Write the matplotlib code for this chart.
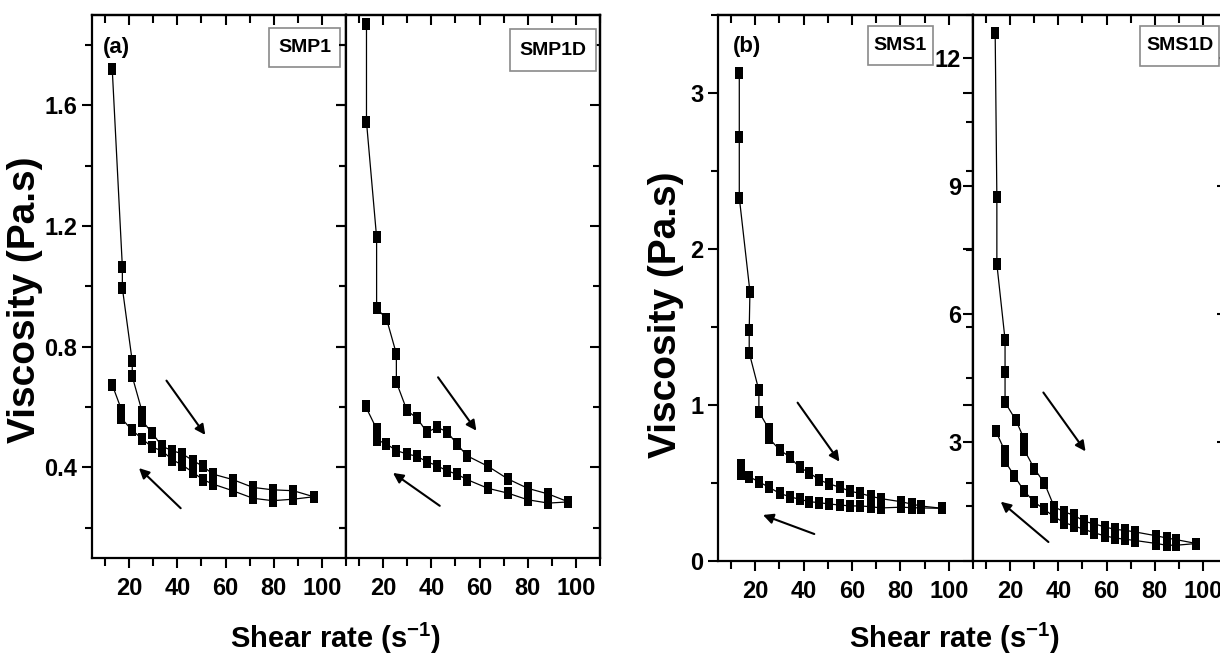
import matplotlib
matplotlib.use('Agg')
import matplotlib.pyplot as plt
from matplotlib import font_manager
from matplotlib.ticker import FixedLocator
from matplotlib.patches import Rectangle
from matplotlib.path import Path

# ---------------- data ----------------
# (a) SMP1
smp1_up_x = [13.0, 17.2, 17.2, 21.3, 21.3, 25.4, 25.4, 29.5, 33.7, 37.9, 42.1, 46.5, 50.6, 54.8, 63.0, 71.4, 79.6, 88.2, 96.6]
smp1_up_y = [1.72, 1.065, 0.995, 0.752, 0.702, 0.585, 0.555, 0.515, 0.470, 0.456, 0.445, 0.423, 0.404, 0.378, 0.360, 0.334, 0.326, 0.323, 0.303]
smp1_dn_x = [96.6, 88.2, 79.6, 71.4, 63.0, 54.8, 50.6, 46.5, 42.1, 37.9, 33.7, 29.5, 25.4, 21.2, 16.8, 16.8, 13.0]
smp1_dn_y = [0.303, 0.295, 0.290, 0.298, 0.323, 0.345, 0.360, 0.384, 0.408, 0.426, 0.455, 0.468, 0.495, 0.524, 0.563, 0.592, 0.674]

# (a) SMP1D
smp1d_up_x = [13.1, 13.1, 17.3, 17.3, 21.4, 25.5, 25.5, 29.9, 34.1, 38.2, 42.4, 46.5, 50.6, 54.8, 63.5, 71.8, 80.0, 88.6, 96.9]
smp1d_up_y = [1.870, 1.546, 1.163, 0.928, 0.893, 0.777, 0.683, 0.589, 0.563, 0.517, 0.533, 0.519, 0.478, 0.439, 0.404, 0.362, 0.331, 0.312, 0.286]
smp1d_dn_x = [96.9, 88.6, 80.0, 71.8, 63.5, 54.8, 50.6, 46.5, 42.4, 38.2, 34.1, 29.9, 25.5, 21.4, 17.3, 17.3, 12.7]
smp1d_dn_y = [0.286, 0.282, 0.293, 0.315, 0.331, 0.360, 0.378, 0.389, 0.406, 0.419, 0.437, 0.445, 0.456, 0.478, 0.492, 0.528, 0.603]

# (b) SMS1
sms1_up_x = [13.4, 13.4, 13.4, 17.8, 17.5, 17.5, 21.5, 21.5, 25.7, 25.7, 30.1, 34.2, 38.3, 42.4, 46.5, 50.6, 55.1, 59.2, 63.3, 67.8, 71.9, 80.3, 84.6, 88.7, 97.2]
sms1_up_y = [3.13, 2.72, 2.33, 1.726, 1.48, 1.335, 1.094, 0.957, 0.844, 0.786, 0.712, 0.668, 0.600, 0.566, 0.519, 0.494, 0.472, 0.447, 0.434, 0.415, 0.400, 0.380, 0.365, 0.352, 0.338]
sms1_dn_x = [97.2, 88.7, 84.6, 80.3, 71.9, 67.8, 63.3, 59.2, 55.1, 50.6, 46.5, 42.4, 38.3, 34.2, 30.1, 25.7, 21.5, 17.5, 14.2, 14.2]
sms1_dn_y = [0.338, 0.340, 0.342, 0.345, 0.340, 0.348, 0.353, 0.353, 0.359, 0.365, 0.374, 0.380, 0.396, 0.412, 0.434, 0.472, 0.508, 0.540, 0.560, 0.615]

# (b) SMS1D
sms1d_up_x = [13.8, 14.5, 14.5, 17.9, 17.9, 17.9, 22.4, 25.9, 25.9, 30.1, 34.2, 38.3, 42.5, 46.6, 50.8, 54.9, 59.3, 63.5, 67.6, 72.0, 80.7, 84.9, 89.0, 97.3]
sms1d_up_y = [12.58, 8.73, 7.16, 5.39, 4.63, 3.92, 3.50, 3.05, 2.80, 2.36, 2.03, 1.47, 1.35, 1.27, 1.13, 1.07, 1.00, 0.94, 0.92, 0.88, 0.79, 0.74, 0.70, 0.61]
sms1d_dn_x = [97.3, 89.0, 84.9, 80.7, 72.0, 67.6, 63.5, 59.3, 54.9, 50.8, 46.6, 42.5, 38.3, 34.2, 30.1, 25.9, 21.8, 17.9, 17.9, 14.1]
sms1d_dn_y = [0.61, 0.57, 0.57, 0.61, 0.68, 0.71, 0.74, 0.79, 0.86, 0.94, 1.02, 1.10, 1.235, 1.41, 1.58, 1.835, 2.19, 2.54, 2.77, 3.24]

x_major = [20, 40, 60, 80, 100]
x_minor = [10, 30, 50, 70, 90, 110]
ya_major = [0.4, 0.8, 1.2, 1.6]
ya_minor = [0.2, 0.6, 1.0, 1.4, 1.8]
yb1_major = [0, 1, 2, 3]
yb1_minor = [0.5, 1.5, 2.5, 3.5]
yb2_major = [3, 6, 9, 12]
yb2_minor = [1.5, 4.5, 7.5, 10.5]

legend_names = ['SMP1', 'SMP1D', 'SMS1', 'SMS1D']
panel_tags = ['(a)', '(b)']
xlabel_text = 'Shear rate (s$^{-1}$)'
ylabel_text = 'Viscosity (Pa.s)'

# arrow annotations (start, end) in data coords
arrows = [
    [((35.5, 0.688), (51.6, 0.508)), ((41.4, 0.265), (24.1, 0.398))],
    [((42.8, 0.699), (58.7, 0.522)), ((43.5, 0.273), (24.1, 0.382))],
    [((37.5, 1.015), (54.8, 0.637)), ((44.4, 0.173), (23.2, 0.295))],
    [((33.8, 4.15), (51.3, 2.77)), ((35.9, 0.645), (16.1, 1.59))],
]

# ---------------- fonts ----------------
names = {f.name for f in font_manager.fontManager.ttflist}
WIDE = 'Liberation Sans' if 'Liberation Sans' in names else 'DejaVu Sans'
if 'Liberation Sans Narrow' in names:
    NARROW = 'Liberation Sans Narrow'
    TICK_FS, XLAB_FS = 18, 26
else:
    NARROW = WIDE
    TICK_FS, XLAB_FS = 17, 21

plt.rcParams.update({
    'font.family': [NARROW, 'DejaVu Sans'],
    'font.weight': 'bold',
    'mathtext.fontset': 'custom',
    'mathtext.rm': NARROW + ':bold',
    'mathtext.it': NARROW + ':bold',
    'mathtext.bf': NARROW + ':bold',
    'mathtext.default': 'regular',
    'axes.linewidth': 1.6,
})

W, H = 1220, 657
fig = plt.figure(figsize=(W / 100, H / 100), dpi=100)
fig.patch.set_facecolor('white')


def px_axes(x0, x1, y0, y1):
    return fig.add_axes([x0 / W, 1 - y1 / H, (x1 - x0) / W, (y1 - y0) / H])


marker_path = Path([(-0.75, -1), (0.75, -1), (0.75, 1), (-0.75, 1), (-0.75, -1)],
                   [Path.MOVETO, Path.LINETO, Path.LINETO, Path.LINETO, Path.CLOSEPOLY])

panels = [
    dict(rect=(92, 346, 15, 558), up=(smp1_up_x, smp1_up_y), dn=(smp1_dn_x, smp1_dn_y),
         ylim=(0.1, 1.9), ymaj=ya_major, ymin=ya_minor, ylab=True, ypad=3.5,
         box=(0.697, 0.904, 0.279, 0.072)),
    dict(rect=(346, 600, 15, 558), up=(smp1d_up_x, smp1d_up_y), dn=(smp1d_dn_x, smp1d_dn_y),
         ylim=(0.1, 1.9), ymaj=ya_major, ymin=ya_minor, ylab=False, ypad=3.5,
         box=(0.646, 0.897, 0.338, 0.077)),
    dict(rect=(718, 973, 15, 561), up=(sms1_up_x, sms1_up_y), dn=(sms1_dn_x, sms1_dn_y),
         ylim=(0.0, 3.5), ymaj=yb1_major, ymin=yb1_minor, ylab=True, ypad=3.5,
         box=(0.588, 0.908, 0.255, 0.072)),
    dict(rect=(973, 1227, 15, 561), up=(sms1d_up_x, sms1d_up_y), dn=(sms1d_dn_x, sms1d_dn_y),
         ylim=(0.2, 13.0), ymaj=yb2_major, ymin=yb2_minor, ylab=True, ypad=1.5,
         box=(0.657, 0.907, 0.312, 0.073)),
]

axes = []
for i, p in enumerate(panels):
    ax = px_axes(*p['rect'])
    axes.append(ax)
    for xs, ys in (p['up'], p['dn']):
        ax.plot(xs, ys, '-', color='black', lw=0.9, marker=marker_path, ms=8,
                mfc='black', mec='black', mew=0)
    ax.set_xlim(4.6, 110)
    ax.set_ylim(*p['ylim'])
    ax.xaxis.set_major_locator(FixedLocator(x_major))
    ax.xaxis.set_minor_locator(FixedLocator(x_minor))
    ax.yaxis.set_major_locator(FixedLocator(p['ymaj']))
    ax.yaxis.set_minor_locator(FixedLocator(p['ymin']))
    ax.tick_params(axis='x', which='both', direction='out', bottom=True, top=False,
                   width=1.5, labelsize=TICK_FS, pad=7)
    ax.tick_params(axis='x', which='major', length=7)
    ax.tick_params(axis='x', which='minor', length=6)
    ax.tick_params(axis='y', which='both', direction='out', left=True, right=False,
                   width=1.5, labelsize=TICK_FS, pad=p['ypad'], labelleft=p['ylab'])
    ax.tick_params(axis='y', which='major', length=7)
    ax.tick_params(axis='y', which='minor', length=5)
    ax.set_xticklabels([str(v) for v in x_major])
    if p['ylab']:
        ax.set_yticklabels([('%g' % v) for v in p['ymaj']])
    for s in ax.spines.values():
        s.set_linewidth(1.6)

    # top ticks pointing inward
    sx = ax.secondary_xaxis('top')
    sx.xaxis.set_major_locator(FixedLocator(x_major))
    sx.xaxis.set_minor_locator(FixedLocator(x_minor))
    sx.tick_params(axis='x', which='both', direction='in', labeltop=False, width=1.5)
    sx.tick_params(axis='x', which='major', length=7)
    sx.tick_params(axis='x', which='minor', length=6)
    sx.spines['top'].set_linewidth(1.6)
    # right ticks pointing inward
    sy = ax.secondary_yaxis('right')
    sy.yaxis.set_major_locator(FixedLocator(p['ymaj']))
    sy.yaxis.set_minor_locator(FixedLocator(p['ymin']))
    sy.tick_params(axis='y', which='both', direction='in', labelright=False, width=1.5)
    sy.tick_params(axis='y', which='major', length=7)
    sy.tick_params(axis='y', which='minor', length=5)
    sy.spines['right'].set_linewidth(1.6)

    # legend-like box
    bx, by, bw, bh = p['box']
    ax.add_patch(Rectangle((bx, by), bw, bh, transform=ax.transAxes, facecolor='white',
                           edgecolor='#8a8a8a', lw=1.2, zorder=5, clip_on=False))
    ax.text(bx + bw / 2, by + bh / 2, legend_names[i], transform=ax.transAxes,
            ha='center', va='center', fontsize=14, fontfamily=WIDE, fontweight='bold',
            zorder=6)

    for (start, end) in arrows[i]:
        ax.annotate('', xy=end, xytext=start,
                    arrowprops=dict(arrowstyle='-|>', color='black', lw=1.5,
                                    mutation_scale=15, shrinkA=0, shrinkB=0))

# panel tags
axes[0].text(0.098, 0.941, panel_tags[0], transform=axes[0].transAxes, ha='center',
             va='center', fontsize=16, fontfamily=WIDE, fontweight='bold')
axes[2].text(0.114, 0.943, panel_tags[1], transform=axes[2].transAxes, ha='center',
             va='center', fontsize=16, fontfamily=WIDE, fontweight='bold')

# axis labels
fig.text(25 / W, 1 - 300 / H, ylabel_text, rotation=90, ha='center', va='center',
         fontsize=28, fontfamily=WIDE, fontweight='bold')
fig.text(666 / W, 1 - 315 / H, ylabel_text, rotation=90, ha='center', va='center',
         fontsize=28, fontfamily=WIDE, fontweight='bold')
fig.text(336 / W, 9 / H, xlabel_text, ha='center', va='baseline', fontsize=XLAB_FS)
fig.text(955 / W, 9 / H, xlabel_text, ha='center', va='baseline', fontsize=XLAB_FS)

fig.savefig('out.png', dpi=100, facecolor='white')
